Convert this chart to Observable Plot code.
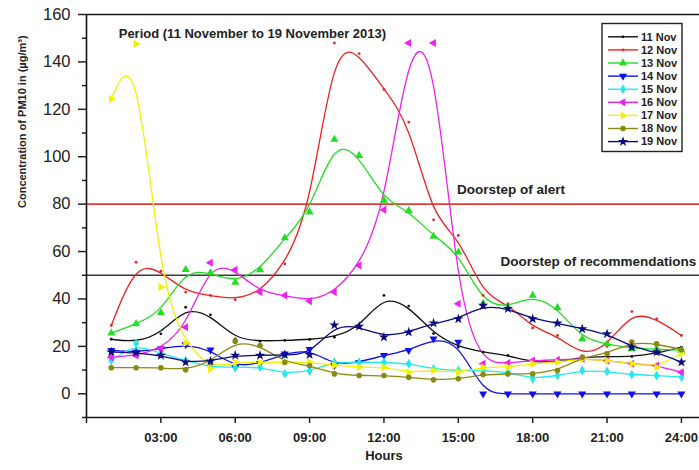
<!DOCTYPE html>
<html>
<head>
<meta charset="utf-8">
<script src="https://cdn.jsdelivr.net/npm/d3@7"></script>
<script src="https://cdn.jsdelivr.net/npm/@observablehq/plot@0.6"></script>
<style>
  html, body { margin: 0; padding: 0; background: #fff; }
  #chart { width: 699px; height: 470px; }
</style>
</head>
<body>
<div id="chart"></div>
<script>
// ---- data ----
const hours = [1,2,3,4,5,6,7,8,9,10,11,12,13,14,15,16,17,18,19,20,21,22,23,24];
const seriesNames = ["11 Nov","12 Nov","13 Nov","14 Nov","15 Nov","16 Nov","17 Nov","18 Nov","19 Nov"];
const seriesColors = ["#111111","#ee2222","#22dd22","#1010ee","#22e8f0","#ee22ee","#f2f200","#8a8a10","#0a0a80"];

const nov11 = [23, 21.8, 25.3, 36.5, 33.3, 23.2, 22.2, 22.5, 22.9, 23.9, 28, 41.5, 37, 25.4, 19.7, 17.6, 16.2, 13.3, 13.3, 15.4, 15.7, 15.7, 17, 19.7];
const nov12 = [28.8, 55.5, 51.7, 42.9, 41.5, 39.7, 42.9, 54.8, 77.3, 148, 143.5, 128.4, 114.6, 73.4, 66.8, 41.5, 38, 27.8, 24.6, 16, 20, 34.7, 31.6, 24.6];
const nov13 = [25.6, 29.5, 34.2, 52.4, 51, 47, 52.3, 65.8, 76.6, 107.3, 100.5, 81.6, 77.3, 66.4, 59.7, 38, 36.5, 41.5, 36.3, 23.2, 21, 19, 19, 18.3];
const nov14 = [18.3, 17.6, 19, 20.8, 18.5, 11.2, 12.9, 16.9, 18.8, 12, 13.3, 16.2, 18.3, 23.2, 21.8, 0, 0, 0, 0, 0, 0, 0, 0, 0];
const nov15 = [14, 21.2, 16.9, 14, 11.2, 11.2, 11.3, 8.5, 9.6, 13.3, 13.3, 13.3, 12.7, 10.5, 9.8, 9.8, 9.1, 6.3, 7.7, 9.8, 9.4, 8.1, 7.7, 7];
const nov16 = [15.4, 16.2, 19, 28.1, 55.3, 52.3, 42.9, 41.5, 39.1, 42.9, 54.1, 77.6, 148, 148, 38, 12.7, 13, 14, 14.3, 14.8, 14, 12.7, 11.9, 9.1];
const nov17 = [124.4, 147.6, 45, 21.4, 10.5, 13.3, 13.3, 13.3, 13.3, 12, 11.2, 11.2, 9.1, 9.8, 9.1, 11.2, 11.2, 12.7, 13.3, 14.8, 14, 12.7, 11.2, 17];
const nov18 = [11, 11, 11, 10.1, 13.3, 22.2, 20.4, 13.3, 11.9, 8.4, 7.7, 7.7, 7, 5.9, 6.3, 8.1, 8.4, 8.4, 9.8, 15.4, 16.9, 21.8, 21.1, 18.6];
const nov19 = [17.6, 17.3, 16.2, 13.3, 13.8, 16.2, 16.2, 16.5, 16.5, 29, 28.4, 23.9, 26, 29.8, 31.6, 37.3, 35.9, 31.6, 29.8, 27.4, 25.3, 19.7, 17.6, 13.3];
const seriesValues = [nov11, nov12, nov13, nov14, nov15, nov16, nov17, nov18, nov19];

const xTicks = [0, 3, 6, 9, 12, 15, 18, 21, 24];
const yTicks = [0, 20, 40, 60, 80, 100, 120, 140, 160];
const yMinorTicks = [-10, 10, 30, 50, 70, 90, 110, 130, 150];
const thresholds = [80, 50];
const thresholdColors = ["#e23b3b", "#3a3a3a"];
const thresholdLabels = ["Doorstep of alert", "Doorstep of recommendations"];
const thresholdLabelHours = [14.95, 16.7];
const titleText = "Period (11 November to 19 November 2013)";
const yTitle = "Concentration of PM10 in (µg/m³)";
const xTitle = "Hours";

// ---- symbols ----
const sqrt3 = Math.sqrt(3);
const triDown = {draw(c, size) { const y = -Math.sqrt(size / (sqrt3 * 3)); c.moveTo(0, -y * 2); c.lineTo(-sqrt3 * y, y); c.lineTo(sqrt3 * y, y); c.closePath(); }};
const triLeft = {draw(c, size) { const y = -Math.sqrt(size / (sqrt3 * 3)); c.moveTo(y * 2, 0); c.lineTo(-y, sqrt3 * y); c.lineTo(-y, -sqrt3 * y); c.closePath(); }};
const triRight = {draw(c, size) { const y = -Math.sqrt(size / (sqrt3 * 3)); c.moveTo(-y * 2, 0); c.lineTo(y, sqrt3 * y); c.lineTo(y, -sqrt3 * y); c.closePath(); }};
const seriesSymbols = [d3.symbolCircle, d3.symbolCircle, d3.symbolTriangle, triDown, d3.symbolDiamond, triLeft, triRight, d3.symbolCircle, d3.symbolStar];
const seriesR = [1.4, 1.4, 3, 3, 3, 3, 3, 2.8, 3.2];

// ---- build tables ----
const tables = seriesValues.map((vals, i) => vals.map((v, j) => ({hour: hours[j], value: v, series: seriesNames[i]})));

const marks = [];
thresholds.forEach((t, i) => {
  marks.push(Plot.ruleY([t], {stroke: thresholdColors[i], strokeWidth: 1.6}));
});
tables.forEach((tbl, i) => {
  marks.push(Plot.line(tbl, {x: "hour", y: "value", curve: "basis", stroke: seriesColors[i], strokeWidth: 1.3}));
});
tables.forEach((tbl, i) => {
  marks.push(Plot.dot(tbl, {x: "hour", y: "value", symbol: seriesSymbols[i], r: seriesR[i], fill: seriesColors[i], stroke: "none"}));
});
// frame lines
marks.push(Plot.ruleX([0], {stroke: "#111", strokeWidth: 1.6}));
marks.push(Plot.ruleY([-10, 160], {stroke: "#111", strokeWidth: 1.6}));
// axes
marks.push(Plot.axisY(yTicks, {tickSize: 8, tickPadding: 8, fontSize: 16.5, strokeWidth: 1.5, label: null, fill: "#222"}));
marks.push(Plot.axisY(yMinorTicks, {tickSize: 4, tickFormat: () => "", strokeWidth: 1.5, label: null}));
marks.push(Plot.axisX(xTicks, {tickSize: 6, tickPadding: 9, fontSize: 13, fontWeight: "bold", strokeWidth: 1.5, label: null, fill: "#222",
  tickFormat: d => d === 0 ? "" : String(d).padStart(2, "0") + ":00"}));
// titles
marks.push(Plot.text([yTitle], {frameAnchor: "left", rotate: -90, dx: -64, dy: -8, fontSize: 11, fontWeight: "bold", fill: "#222"}));
marks.push(Plot.text([xTitle], {frameAnchor: "bottom", dx: -9, dy: 42, fontSize: 13, fontWeight: "bold", fill: "#222"}));
marks.push(Plot.text([{x: 1.3, y: 152, label: titleText}], {x: "x", y: "y", text: "label", textAnchor: "start", fontSize: 13, fontWeight: "bold", fill: "#222"}));
marks.push(Plot.text(thresholds.map((t, i) => ({x: thresholdLabelHours[i], y: t, label: thresholdLabels[i]})),
  {x: "x", y: "y", text: "label", textAnchor: "start", dy: -14, fontSize: 13.5, fontWeight: "bold", fill: "#222"}));

const chart = Plot.plot({
  width: 699, height: 470,
  marginLeft: 86, marginRight: 0, marginTop: 14, marginBottom: 53,
  x: {domain: [0, 24.73]},
  y: {domain: [-10, 160]},
  style: {fontFamily: "'Liberation Sans', Arial, sans-serif", background: "#fff", color: "#222", overflow: "visible"},
  marks
});
document.getElementById("chart").appendChild(chart);

// ---- legend (drawn into the svg) ----
const svg = d3.select(chart);
const lg = svg.append("g").attr("transform", "translate(602,23.5)");
lg.append("rect").attr("width", 80).attr("height", 128).attr("fill", "#fff").attr("stroke", "#222").attr("stroke-width", 1.4);
seriesNames.forEach((name, i) => {
  const cy = 13.3 + 13.1 * i;
  lg.append("line").attr("x1", 6).attr("x2", 36).attr("y1", cy).attr("y2", cy).attr("stroke", seriesColors[i]).attr("stroke-width", 1.4);
  lg.append("path").attr("transform", `translate(21,${cy})`)
    .attr("d", d3.symbol(seriesSymbols[i], seriesR[i] * seriesR[i] * Math.PI)())
    .attr("fill", seriesColors[i]);
  lg.append("text").attr("x", 39).attr("y", cy).attr("dy", "0.35em")
    .attr("text-anchor", "start")
    .attr("font-size", 11).attr("font-weight", "bold").attr("fill", "#222").text(name);
});
</script>
</body>
</html>
